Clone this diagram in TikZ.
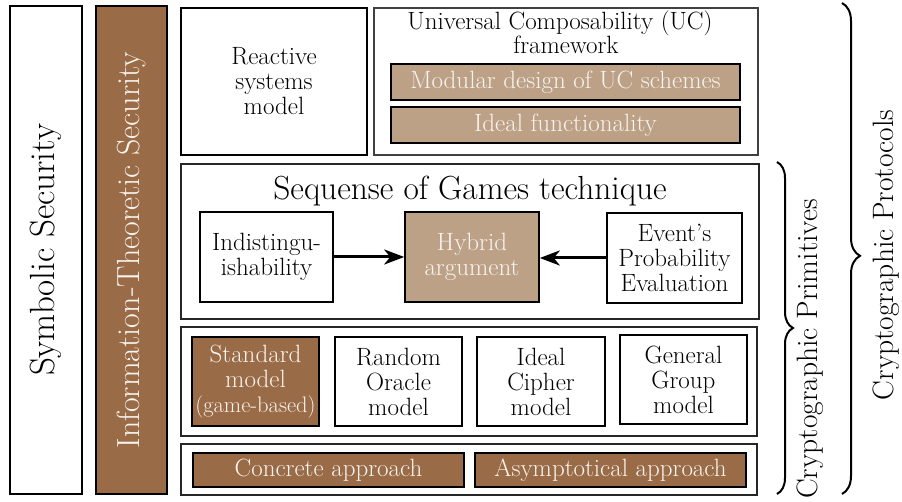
\documentclass[tikz,border=0pt]{standalone}
\usetikzlibrary{arrows.meta,decorations.pathreplacing}
\definecolor{darkbrown}{HTML}{9A6B47}
\definecolor{lightbrown}{HTML}{BDA187}
\definecolor{paletext}{HTML}{F7F3EE}
\newcommand{\fsz}[1]{\fontsize{#1}{#1}\selectfont}
\tikzset{
  box/.style={draw=black, line width=1.6pt, fill=white, inner sep=0pt, align=center,
    font=\fontsize{25}{25}\selectfont},
  outerbox/.style={draw=black!85, line width=1.8pt, fill=white, inner sep=0pt},
  darkbox/.style={box, fill=darkbrown, text=paletext},
  lightbox/.style={box, fill=lightbrown, text=paletext},
  vtext/.style={rotate=90, inner sep=0pt},
  arr/.style={line width=3pt, -{Stealth[length=20pt,width=15pt,inset=6pt]}},
  bracestyle/.style={line width=2pt, decorate}
}
\begin{document}
\begin{tikzpicture}[x=1pt,y=-1pt]
\useasboundingbox (0,0) rectangle (902,502);
\fill[white] (0,0) rectangle (902,502);

% left columns
\node[box, minimum width=72pt, minimum height=488pt] (symb) at (46,250) {};
\node[vtext, font=\fsz{35}] (symbt) at (symb.center) {Symbolic Security};
\node[darkbox, minimum width=71pt, minimum height=488pt] (info) at (131.5,250) {};
\node[vtext, text=paletext, font=\fsz{32}] (infot) at (info.center) {Information-Theoretic Security};

% top row
\node[box, minimum width=186pt, minimum height=147pt] (react) at (274,81.5) {Reactive\\systems\\model};
\node[outerbox, draw=black!75, line width=1.4pt, minimum width=384pt, minimum height=147pt] (uc) at (566,81.5) {};
\node[anchor=base, inner sep=0pt, font=\fsz{25}] (uct1) at (560,30) {Universal Composability (UC)};
\node[anchor=base, inner sep=0pt, font=\fsz{25}] (uct2) at (566,53.5) {framework};
\node[lightbox, minimum width=349pt, minimum height=36pt] (modular) at (565.5,82) {Modular design of UC schemes};
\node[lightbox, minimum width=349pt, minimum height=36pt] (idealf) at (565.5,125) {Ideal functionality};

% sequence of games
\node[outerbox, minimum width=578pt, minimum height=155pt] (sog) at (470,241.5) {};
\node[anchor=base, inner sep=0pt, font=\fsz{33.4}] (sogt) at (470,200) {Sequense of Games technique};
\node[box, minimum width=133pt, minimum height=90pt] (indist) at (266.5,257) {Indistingu-\\ishability};
\node[lightbox, minimum width=134pt, minimum height=90pt] (hybrid) at (472,257) {Hybrid\\argument};
\node[box, minimum width=135pt, minimum height=90pt] (event) at (674.5,258) {Event’s\\Probability\\Evaluation};
\draw[arr] (indist.east) -- (hybrid.west);
\draw[arr] (event.west) -- (event.west -| hybrid.east);

% models
\node[outerbox, minimum width=576pt, minimum height=109pt] (models) at (469,381.5) {};
\node[darkbox, minimum width=127pt, minimum height=89pt] (std) at (255.5,381.5) {Standard\\model\\{\fontsize{22.5}{26}\selectfont (game-based)}};
\node[box, minimum width=127pt, minimum height=89pt] (ro) at (398.5,381.5) {Random\\Oracle\\model};
\node[box, minimum width=128pt, minimum height=89pt] (ic) at (541,381.5) {Ideal\\Cipher\\model};
\node[box, minimum width=127pt, minimum height=89pt] (gg) at (683.5,379.5) {General\\Group\\model};

% approaches
\node[outerbox, minimum width=576pt, minimum height=51pt] (appr) at (469,469.5) {};
\node[darkbox, minimum width=271pt, minimum height=34pt] (conc) at (328.5,470) {Concrete approach};
\node[darkbox, minimum width=271pt, minimum height=34pt] (asym) at (610.5,470) {Asymptotical approach};

% braces
\coordinate (p1) at (777,162);
\coordinate (p2) at (777,494);
\draw[bracestyle, decoration={brace, amplitude=16pt}] (p1) -- (p2);
\node[vtext, font=\fsz{29.5}] (prim) at (810,349) {Cryptographic Primitives};
\coordinate (q1) at (842,3);
\coordinate (q2) at (842,494);
\draw[bracestyle, decoration={brace, amplitude=18pt, aspect=0.515}] (q1) -- (q2);
\node[vtext, font=\fsz{29.5}] (prot) at (886,255) {Cryptographic Protocols};
\end{tikzpicture}
\end{document}
